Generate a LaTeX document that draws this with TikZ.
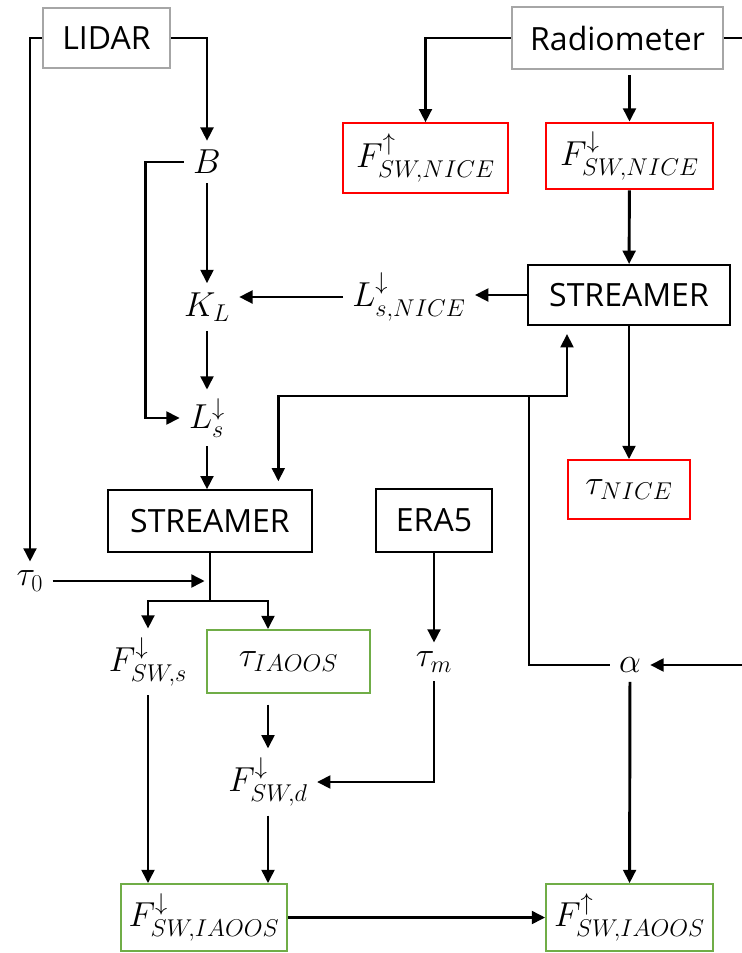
\RequirePackage{fix-cm}
\documentclass[tikz,border=0pt]{standalone}
\usepackage{fontspec}
\usepackage{amsmath}
\usepackage{tikz}
\usetikzlibrary{arrows.meta}
\newfontfamily\boxfont{Open Sans}
\definecolor{srcgray}{HTML}{A6A6A6}
\definecolor{nicered}{HTML}{FF0000}
\definecolor{iaoosgreen}{HTML}{70AD47}

\begin{document}
\begin{tikzpicture}[x=0.75pt,y=-0.75pt,>={Triangle[length=10pt,width=9.5pt]},
  every node/.style={font=\fontsize{26}{31}\selectfont},
  box/.style={draw,line width=1.5pt,inner sep=0pt,font=\fontsize{24}{29}\selectfont\boxfont},
  src/.style={box,draw=srcgray},
  nice/.style={box,draw=nicered,font=\fontsize{26}{31}\selectfont},
  iaoos/.style={box,draw=iaoosgreen,font=\fontsize{26}{31}\selectfont},
  var/.style={inner sep=1pt,outer sep=6pt},
  flow/.style={->,line width=2.2pt}]
  \useasboundingbox (0,0) rectangle (742,953);
  \node[src,minimum width=95pt,minimum height=45pt] (lidar) at (106.5,38) {LIDAR};
  \node[src,minimum width=158pt,minimum height=46pt] (radio) at (617.5,38) {Radiometer};
  \node[nice,minimum width=124pt,minimum height=52pt] (fupnice) at (425.5,158) {$F^{\uparrow}_{SW,NICE}$};
  \node[nice,minimum width=125pt,minimum height=50pt] (fdnnice) at (629.5,156) {$F^{\downarrow}_{SW,NICE}$};
  \node[box,minimum width=152pt,minimum height=45pt] (strR) at (629,295) {STREAMER};
  \node[nice,minimum width=92pt,minimum height=44pt] (taunice) at (629,489.5) {$\tau_{NICE}$};
  \node[box,minimum width=153pt,minimum height=46pt] (strL) at (210,521) {STREAMER};
  \node[box,minimum width=87pt,minimum height=47pt] (era) at (434,520.5) {ERA5};
  \node[iaoos,minimum width=122pt,minimum height=47pt] (tauiaoos) at (288.5,661.5) {$\tau_{IAOOS}$\hspace{12pt}};
  \node[iaoos,minimum width=125pt,minimum height=50pt] (fdniaoos) at (204,917.5) {$F^{\downarrow}_{SW,IAOOS}$};
  \node[iaoos,minimum width=125pt,minimum height=50pt] (fupiaoos) at (629.5,917.5) {$F^{\uparrow}_{SW,IAOOS}$};
  \node[var] (B) at (207,162) {$B$};
  \node[var] (KL) at (207,307) {$K_L$};
  \node[var] (Ls) at (207,418) {$L^{\downarrow}_{s}$};
  \node[var] (Lsnice) at (409,297) {$L^{\downarrow}_{s,NICE}$};
  \node[var] (tau0) at (30,581) {$\tau_0$};
  \node[var] (Fs) at (148,662) {$F^{\downarrow}_{SW,s}$};
  \node[var] (taum) at (434,662) {$\tau_m$};
  \node[var] (alpha) at (630,665) {$\alpha$};
  \node[var] (Fd) at (268,782) {$F^{\downarrow}_{SW,d}$};
  \coordinate (radioout) at (742,38);
  \coordinate (albedoin) at (742,665);
  \coordinate (split) at (529,396);
  \coordinate (fork) at (210,601);
  \draw[flow] (lidar.west) -| (tau0.north);
  \draw[flow] (lidar.east) -| (B.north);
  \draw[flow] (B.west) -- ++(-38,0) |- (Ls.west);
  \draw[flow] (B) -- (KL);
  \draw[flow] (KL) -- (Ls);
  \draw[flow] (Ls.south) -- (Ls.south |- strL.north);
  \draw[flow] (radio.west) -| (fupnice.north);
  \draw[flow,shorten <=4pt] (fdnnice.north |- radio.south) -- (fdnnice.north);
  \draw[line width=2.2pt] (radio.east) -- (radioout);
  \draw[flow] (fdnnice) -- (strR);
  \draw[flow] (strR.west) -- (strR.west -| Lsnice.east);
  \draw[flow] (Lsnice.west) -- (Lsnice.west -| KL.east);
  \draw[flow] (strR) -- (taunice);
  \draw[line width=2.2pt] (alpha.west) -| (split);
  \draw[flow] (split) -| ([xshift=-46.5pt,yshift=-6pt]strR.south);
  \draw[flow] (split) -| ([xshift=-26pt,yshift=6pt]strL.north east);
  \draw[line width=2.2pt] (strL.south) -- (fork);
  \draw[flow] (tau0.east) -- ([xshift=-4pt]tau0.east -| fork);
  \draw[flow] (fork) -| (Fs.north);
  \draw[flow] (fork) -| (Fd.north |- tauiaoos.north);
  \draw[flow] (albedoin) -- (alpha);
  \draw[flow] (era) -- (taum);
  \draw[flow] (taum.south) |- (Fd.east);
  \draw[flow,shorten <=8pt] (tauiaoos.south -| Fd.north) -- (Fd.north);
  \draw[flow] (Fd) -- (Fd |- fdniaoos.north);
  \draw[flow] (Fs) -- (Fs |- fdniaoos.north);
  \draw[flow] (fdniaoos) -- (fupiaoos);
  \draw[flow] (alpha) -- (fupiaoos);
\end{tikzpicture}
\end{document}
